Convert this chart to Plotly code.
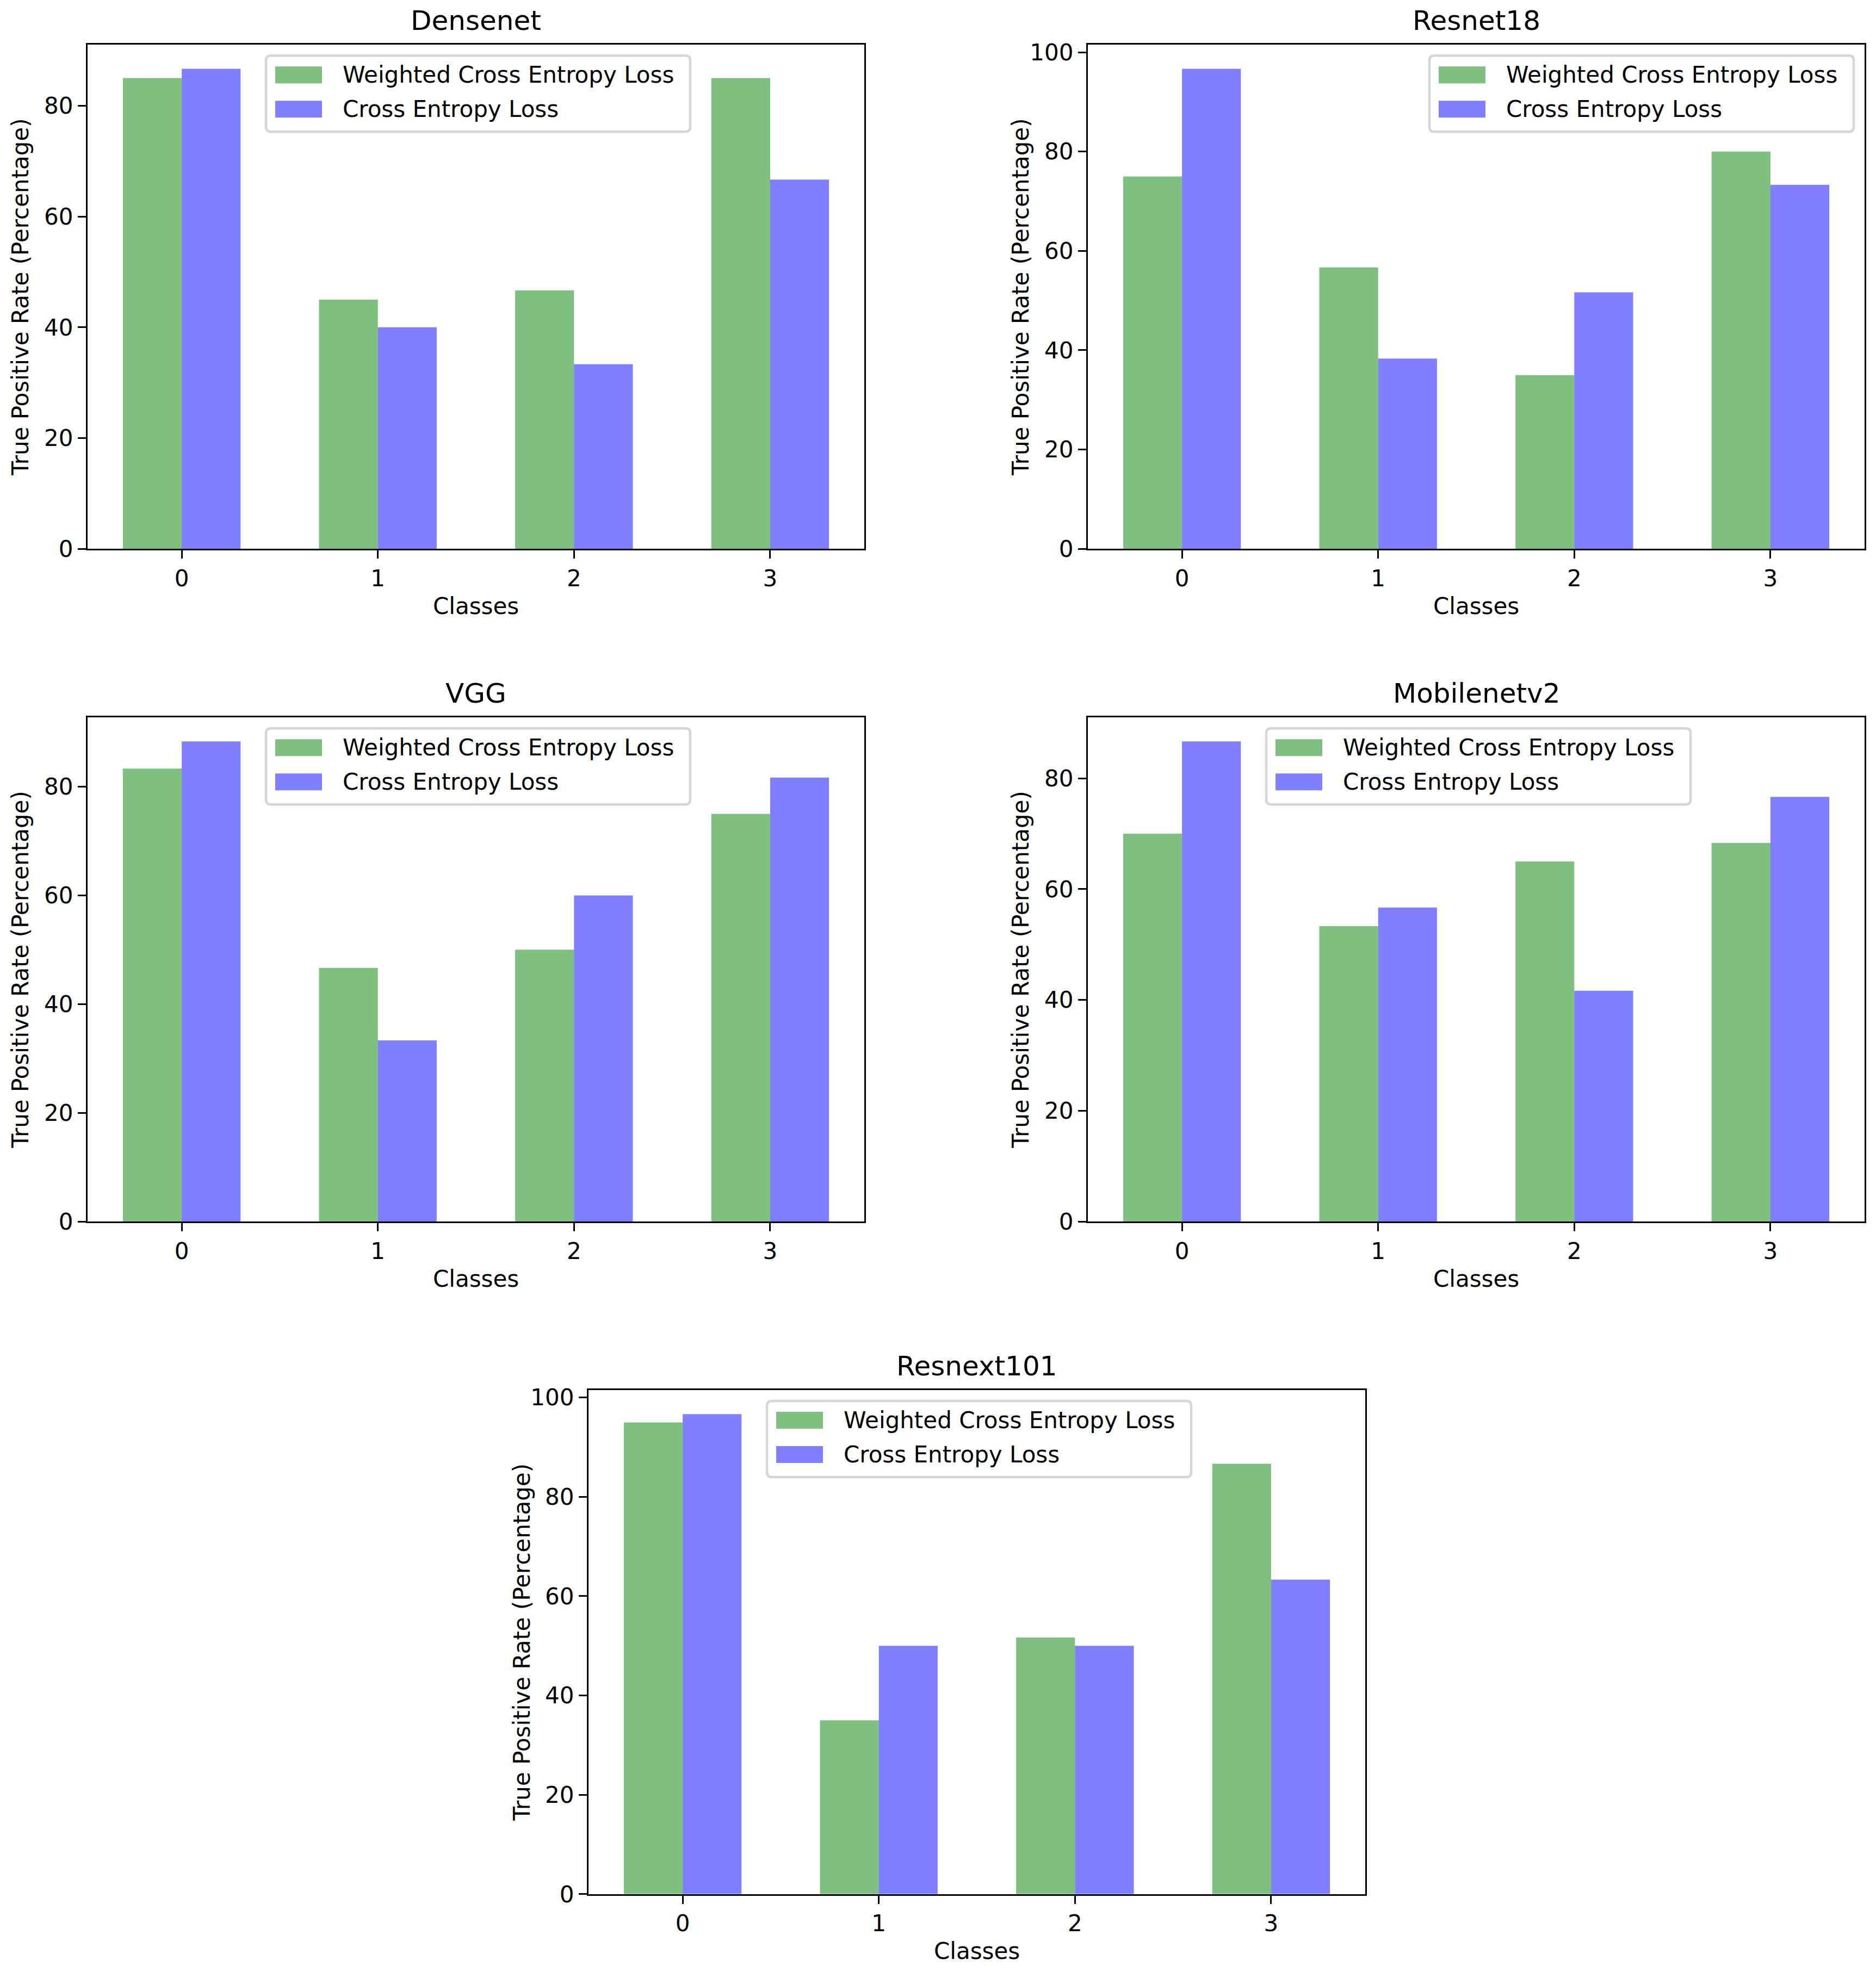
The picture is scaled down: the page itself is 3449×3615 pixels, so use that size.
import plotly.graph_objects as go

# ---------------- data ----------------
classes = [0, 1, 2, 3]
class_labels = ["0", "1", "2", "3"]
model_names = ["Densenet", "Resnet18", "VGG", "Mobilenetv2", "Resnext101"]
series_names = ["Weighted Cross Entropy Loss", "Cross Entropy Loss"]

densenet_wce = [85.0, 45.0, 46.67, 85.0]
densenet_ce = [86.67, 40.0, 33.33, 66.67]
resnet18_wce = [75.0, 56.67, 35.0, 80.0]
resnet18_ce = [96.67, 38.33, 51.67, 73.33]
vgg_wce = [83.33, 46.67, 50.0, 75.0]
vgg_ce = [88.33, 33.33, 60.0, 81.67]
mobilenet_wce = [70.0, 53.33, 65.0, 68.33]
mobilenet_ce = [86.67, 56.67, 41.67, 76.67]
resnext_wce = [95.0, 35.0, 51.67, 86.67]
resnext_ce = [96.67, 50.0, 50.0, 63.33]

wce_values = [densenet_wce, resnet18_wce, vgg_wce, mobilenet_wce, resnext_wce]
ce_values = [densenet_ce, resnet18_ce, vgg_ce, mobilenet_ce, resnext_ce]

# ---------------- styling / layout ----------------
PAGE_W = 3449
OFF = 8  # default page body margin
W = PAGE_W - 2 * OFF
H = 3626
FONT = "DejaVu Sans"
GREEN = "rgba(0,128,0,0.5)"
BLUE = "rgba(0,0,255,0.5)"
AX_W, AX_H = 1428, 927
# pixel (left, top) of each axes box, in target image pixels
boxes = [(161, 80), (2000, 80), (161, 1317), (2000, 1317), (1082, 2554)]
legend_offsets = [328, 628, 328, 328, 328]  # legend left relative to axes left
LEG_W, LEG_H = 780, 140
# empirical vertical mapping of the capture (target = 7.7 + 0.9905 * page)
V_OFF, V_SCALE = 7.7, 0.9905


def px(x):
    return (x - OFF) / W


def py(y):
    page_y = (y - V_OFF) / V_SCALE
    return 1 - (page_y - OFF) / H


fig = go.Figure()
layout = dict(
    width=W, height=H,
    margin=dict(l=0, r=0, t=0, b=0),
    paper_bgcolor="white", plot_bgcolor="white",
    showlegend=False,
    barmode="overlay",
    font=dict(family=FONT, size=42, color="black"),
)
annotations = []
shapes = []

for i, name in enumerate(model_names):
    k = "" if i == 0 else str(i + 1)
    xa, ya = "x" + k, "y" + k
    left, top = boxes[i]
    ymax = max(max(wce_values[i]), max(ce_values[i])) * 1.05

    fig.add_trace(go.Bar(x=classes, y=wce_values[i], name=series_names[0],
                         offset=-0.3, width=0.3, marker=dict(color=GREEN, line=dict(width=0)),
                         xaxis=xa, yaxis=ya))
    fig.add_trace(go.Bar(x=classes, y=ce_values[i], name=series_names[1],
                         offset=0.0, width=0.3, marker=dict(color=BLUE, line=dict(width=0)),
                         xaxis=xa, yaxis=ya))

    axis_common = dict(showline=True, linecolor="black", linewidth=3.3, mirror=True,
                       ticks="outside", ticklen=15, tickwidth=3.3, tickcolor="black",
                       showgrid=False, zeroline=False,
                       tickfont=dict(family=FONT, size=42, color="black"))
    layout["xaxis" + k] = dict(axis_common, domain=[px(left), px(left + AX_W)],
                               range=[-0.48, 3.48], tickmode="array",
                               tickvals=classes, ticktext=class_labels,
                               anchor=ya)
    layout["yaxis" + k] = dict(axis_common, domain=[py(top + AX_H), py(top)],
                               range=[0, ymax], tick0=0, dtick=20, anchor=xa)

    cx = left + AX_W / 2
    # subplot title
    annotations.append(dict(text=name, x=px(cx), y=py(top - 44), xref="paper", yref="paper",
                            xanchor="center", yanchor="middle", showarrow=False,
                            font=dict(family=FONT, size=50, color="black")))
    # x title
    annotations.append(dict(text="Classes", x=px(cx), y=py(top + AX_H + 105), xref="paper",
                            yref="paper", xanchor="center", yanchor="middle", showarrow=False,
                            font=dict(family=FONT, size=42, color="black")))
    # y title
    annotations.append(dict(text="True Positive Rate (Percentage)", x=px(left - 123),
                            y=py(top + AX_H / 2), xref="paper", yref="paper",
                            xanchor="center", yanchor="middle", textangle=-90, showarrow=False,
                            font=dict(family=FONT, size=42, color="black")))

    # legend box
    lx0 = left + legend_offsets[i]
    ly0 = top + 20
    lx1, ly1 = lx0 + LEG_W, ly0 + LEG_H
    r = 9
    path = (f"M {px(lx0 + r)},{py(ly0)} L {px(lx1 - r)},{py(ly0)} "
            f"Q {px(lx1)},{py(ly0)} {px(lx1)},{py(ly0 + r)} "
            f"L {px(lx1)},{py(ly1 - r)} Q {px(lx1)},{py(ly1)} {px(lx1 - r)},{py(ly1)} "
            f"L {px(lx0 + r)},{py(ly1)} Q {px(lx0)},{py(ly1)} {px(lx0)},{py(ly1 - r)} "
            f"L {px(lx0)},{py(ly0 + r)} Q {px(lx0)},{py(ly0)} {px(lx0 + r)},{py(ly0)} Z")
    shapes.append(dict(type="path", path=path, xref="paper", yref="paper",
                       line=dict(color="#d6d6d6", width=4.5),
                       fillcolor="rgba(255,255,255,0.8)", layer="above"))
    for j, (col, sname) in enumerate([(GREEN, series_names[0]), (BLUE, series_names[1])]):
        y0 = ly0 + 20 + j * 63
        shapes.append(dict(type="rect", xref="paper", yref="paper",
                           x0=px(lx0 + 17), x1=px(lx0 + 103), y0=py(y0), y1=py(y0 + 31),
                           fillcolor=col, line=dict(width=0), layer="above"))
        annotations.append(dict(text=sname, x=px(lx0 + 139), y=py(y0 + 15.5), xref="paper",
                                yref="paper", xanchor="left", yanchor="middle",
                                showarrow=False,
                                font=dict(family=FONT, size=42, color="black")))

layout["annotations"] = annotations
layout["shapes"] = shapes
fig.update_layout(**layout)
fig.write_html("out.html")
